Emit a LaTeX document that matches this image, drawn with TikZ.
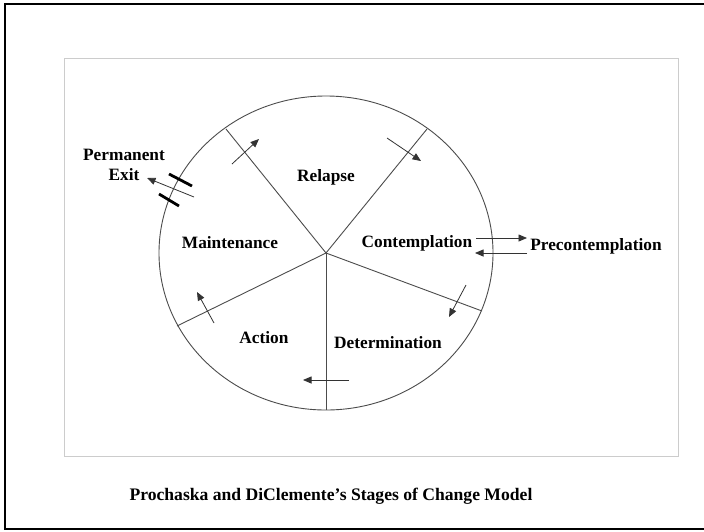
\documentclass[tikz,border=0pt]{standalone}
\usepackage{fontspec}
\setmainfont{Liberation Serif}
\usetikzlibrary{arrows.meta}
\tikzset{
  lbl/.style={font=\fontsize{17.3}{19.5}\selectfont\bfseries, inner sep=0pt},
  captiontext/.style={font=\fontsize{17.6}{20}\selectfont\bfseries, inner sep=0pt},
  wheel/.style={draw=black!70, line width=0.9pt},
  flow/.style={draw=black!80, line width=0.8pt, -{Triangle[length=8.5pt,width=7pt]}},
  bar/.style={draw=black, line width=2.8pt},
}
\begin{document}
\begin{tikzpicture}[x=1pt,y=-1pt]
\useasboundingbox (0,0) rectangle (704,531);
\fill[white] (0,0) rectangle (704,531);
% outer frame
\draw[black, line width=2.2pt] (710,4) -- (5,4) -- (5,529) -- (710,529);
% inner frame
\draw[black!20, line width=1pt] (64,58) rectangle (678,456);
% wheel
\coordinate (c) at (326,253);
\draw[wheel] (c) ellipse [x radius=167pt, y radius=157pt];
\coordinate (sUL) at (226,129);
\coordinate (sUR) at (427,129);
\coordinate (sR) at (482,311);
\coordinate (sB) at (326,410);
\coordinate (sL) at (177,326);
\foreach \p in {sUL,sUR,sR,sB,sL} \draw[wheel] (c) -- (\p);
% labels
\node[lbl] (relapse) at (326,177) {Relapse};
\node[lbl] (contemp) at (417,243) {Contemplation};
\node[lbl] (precon) at (596,246) {Precontemplation};
\node[lbl] (maint) at (230,243) {Maintenance};
\node[lbl] (action) at (264,338) {Action};
\node[lbl] (determ) at (388,343) {Determination};
\node[lbl, align=center] (exit) at (124,165) {Permanent\\Exit};
\node[captiontext] (caption) at (331,496) {Prochaska and DiClemente’s Stages of Change Model};
% arrows
\coordinate (a1s) at (232,164); \coordinate (a1e) at (259,139);
\draw[flow] (a1s) -- (a1e);
\coordinate (a2s) at (387,138); \coordinate (a2e) at (421,161);
\draw[flow] (a2s) -- (a2e);
\coordinate (a3s) at (476,238); \coordinate (a3e) at (527,238);
\draw[flow] (a3s) -- (a3e);
\coordinate (a4s) at (527,253); \coordinate (a4e) at (475,253);
\draw[flow] (a4s) -- (a4e);
\coordinate (a5s) at (466,285); \coordinate (a5e) at (449,317);
\draw[flow] (a5s) -- (a5e);
\coordinate (a6s) at (349,380); \coordinate (a6e) at (303,380);
\draw[flow] (a6s) -- (a6e);
\coordinate (a7s) at (214,323); \coordinate (a7e) at (197,292);
\draw[flow] (a7s) -- (a7e);
% permanent exit
\coordinate (pxs) at (194,197); \coordinate (pxe) at (147,178);
\draw[flow] (pxs) -- (pxe);
\coordinate (b1s) at (169,174); \coordinate (b1e) at (192,186);
\coordinate (b2s) at (159,194); \coordinate (b2e) at (179,206);
\draw[bar] (b1s) -- (b1e);
\draw[bar] (b2s) -- (b2e);
\end{tikzpicture}
\end{document}
